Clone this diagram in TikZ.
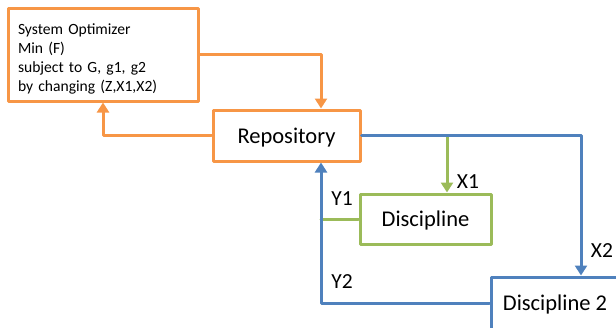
\documentclass[tikz,border=0pt]{standalone}
\usepackage{fontspec}
\setmainfont{Carlito}
\usetikzlibrary{arrows.meta}
\usetikzlibrary{positioning}
\definecolor{orng}{RGB}{247,150,70}
\definecolor{grn}{RGB}{155,187,89}
\definecolor{blu}{RGB}{79,129,189}
\begin{document}
\begin{tikzpicture}[line cap=round,line join=round,>={Triangle[length=10pt,width=12pt]},x=1pt,y=-1pt,
    box/.style={draw,line width=3pt,inner sep=0pt,text=black},
    big/.style={text depth=0pt,font=\fontsize{22.5}{27}\selectfont},
    wire/.style={line width=3pt},
    lbl/.style={inner sep=0pt,font=\fontsize{21.5}{26}\selectfont}]
        \useasboundingbox (0,0) rectangle (616,327);
        \clip (0,0) rectangle (616,327);
        % boxes
        \node[box,draw=orng,minimum width=190,minimum height=93,text width=170,align=left,
              font=\fontsize{15.6}{19}\selectfont] (opt) at (103,54.5)
              {\rule{0pt}{19pt}System Optimizer\\Min (F)\\subject to G, g1, g2\\by changing (Z,X1,X2)};
        \node[box,big,draw=orng,minimum width=147,minimum height=51] (repo) at (286.5,135.5) {Repository};
        \node[box,big,draw=grn,minimum width=131,minimum height=50] (disc) at (425.5,219) {Discipline};
        \node[box,big,draw=blu,minimum width=128,minimum height=52] (disctwo) at (555,303) {Discipline 2};
        % optimizer loop
        \draw[wire,->,color=orng] (opt.east) -| ([xshift=34.5pt]repo.north);
        \draw[wire,->,color=orng] (repo.west) -| (opt.south);
        % inputs
        \draw[wire,->,color=grn] ([xshift=21.5pt]disc.north |- repo.east) -- ([xshift=21.5pt]disc.north);
        \draw[wire,->,color=blu] (repo.east) -| ([xshift=26pt]disctwo.north);
        % outputs
        \coordinate (back) at ([xshift=34.5pt]repo.south);
        \draw[wire,color=grn] (disc.west) -- (disc.west -| back);
        \draw[wire,->,color=blu] (disctwo.west) -| (back);
        % labels
        \node[lbl] (xone) at (468,181.5) {X1};
        \node[lbl] (xtwo) at (602,250.5) {X2};
        \node[lbl] (yone) at (342,198.5) {Y1};
        \node[lbl] (ytwo) at (342,281.5) {Y2};
\end{tikzpicture}
\end{document}
